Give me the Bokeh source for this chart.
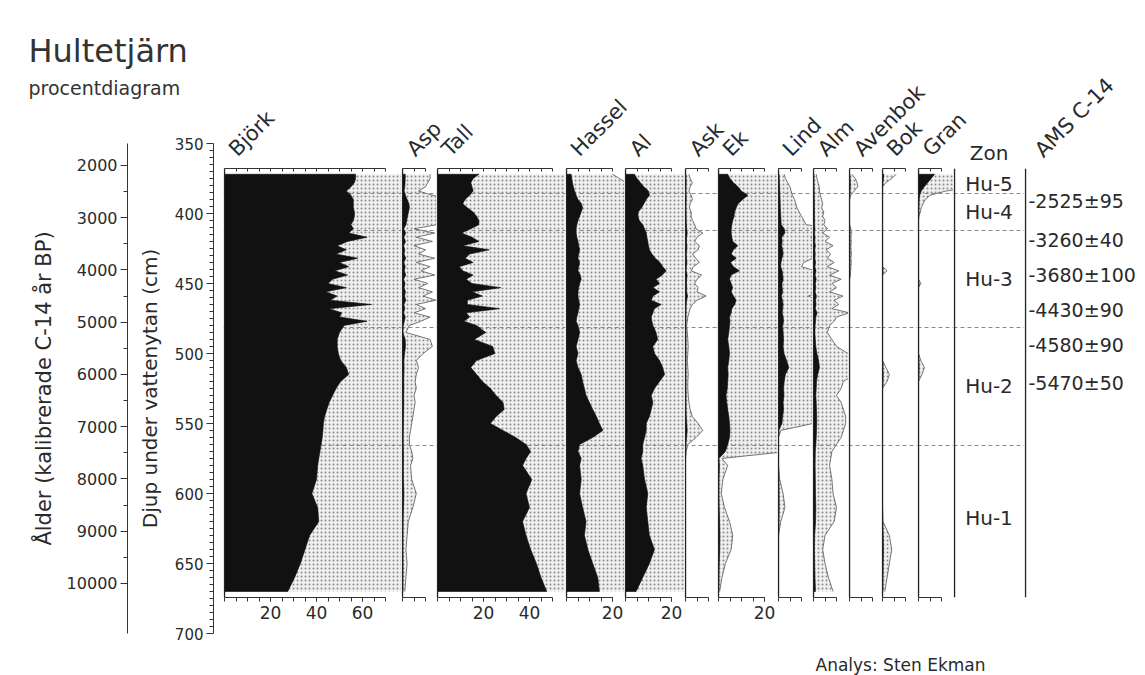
import numpy as np
from bokeh.plotting import figure
from bokeh.layouts import row, column
from bokeh.models import Range1d, LinearAxis, FixedTicker
from bokeh.embed import file_html
from bokeh.resources import INLINE
from bokeh.core.properties import value

# ---------------- data ----------------
depth = [372, 375, 378, 381, 384, 387, 390, 393, 396, 399,
         402, 405, 408, 411, 414, 417, 420, 423, 426, 429,
         432, 435, 438, 441, 444, 447, 450, 453, 456, 459,
         462, 465, 468, 471, 474, 477, 480, 485, 490, 495,
         500, 505, 510, 515, 520, 525, 530, 535, 540, 545,
         550, 555, 560, 565, 570, 575, 580, 590, 600,
         610, 620, 630, 640, 650, 660, 670]

bjork = [57, 57, 56.5, 55, 53, 55, 56, 56, 56, 56.5,
         56.5, 56, 55, 56, 54, 62, 53.5, 49, 53, 48.5,
         58, 50, 54, 48, 53.5, 47, 45, 53, 44, 49,
         46, 64, 45.5, 51, 50, 62, 52, 50, 49, 49,
         49.5, 50.5, 53, 54, 50.5, 48.5, 47, 45.5, 44.5, 43.5,
         43, 42.8, 42.5, 42, 41.5, 41, 40.5, 40, 38,
         40.5, 41, 37, 35, 33, 30.5, 27.5]
asp = [1.2, 1.2, 1.1, 1.0, 0.7, 1.3, 2.0, 2.8, 3.0, 2.6,
       2.2, 1.8, 1.5, 0.5, 1.4, 0.6, 1.3, 0.5, 1.0, 0.7,
       1.4, 0.6, 1.2, 0.8, 1.4, 0.5, 1.1, 0.7, 1.3, 0.9,
       1.45, 0.6, 1.0, 0.5, 1.2, 0.8, 0.3, 0.15, 1.2, 1.3,
       0.9, 0.6, 0.7, 0.6, 0.55, 0.6, 0.5, 0.55, 0.5, 0.45,
       0.4, 0.35, 0.3, 0.3, 0.4, 0.45, 0.35, 0.4, 0.6,
       0.45, 0.25, 0.2, 0.15, 0.2, 0.15, 0.1]
tall = [18, 15.5, 14.5, 15, 15.5, 14, 12, 11, 13, 15.5,
        17, 18, 18, 14.5, 10.5, 15, 18, 11, 22.5, 14,
        12, 15.5, 9.5, 11, 15.5, 12.5, 15, 27.5, 15, 19.5,
        13, 13, 27, 12.5, 14, 11.5, 17, 21, 16, 24,
        25, 17, 14.5, 17, 19.5, 23, 25.5, 28.5, 29, 25.5,
        23, 28.5, 34, 38.5, 40.5, 38.5, 37, 41, 38.5,
        40, 37, 38.5, 40.5, 43, 45, 47.5]
hassel = [2, 2.3, 2.6, 3, 3.5, 4.2, 5, 6.5, 7, 6.4,
          5.7, 5, 4.5, 4.2, 4.2, 4.5, 5, 5.3, 5.7, 5.3,
          5, 5.7, 5.3, 5, 6, 6.4, 5.7, 5.3, 5, 5,
          5.3, 5.7, 5.3, 5, 4.5, 4.2, 5, 5.7, 5, 4.2,
          5, 4.2, 5, 6.4, 7, 7.8, 8.5, 10, 11.4, 13,
          14.3, 15.8, 11.4, 5.7, 5, 6.4, 5.7, 6.4, 5.7,
          7, 8.5, 7.8, 9.3, 11.4, 13.6, 14.3]
al = [3.9, 5, 6.5, 8, 10, 10.4, 9, 8, 7, 5.5,
      5.4, 6, 7.5, 8.3, 9, 9.3, 9.7, 10, 10.4, 11.5,
      13, 15, 16.2, 17.7, 16, 13.3, 14.8, 11.9, 14.8, 12,
      11.2, 15.5, 12.5, 11.9, 11.2, 11.5, 11.9, 13.3, 14, 11.9,
      12.6, 14.8, 16.2, 17, 14.8, 12.6, 11.2, 11.9, 11.2, 10.4,
      9, 9, 8.3, 7.5, 7.5, 6.8, 7.5, 8.3, 9.7,
      9, 9.7, 10.4, 12.6, 10.4, 7.5, 4.6]
ask = [0.15, 0.2, 0.3, 0.2, 0.15, 0.25, 0.3, 0.2, 0.17, 0.25,
       0.25, 0.3, 0.4, 0.46, 0.75, 0.5, 0.4, 0.6, 0.55, 0.3,
       0.45, 0.6, 0.35, 0.25, 0.7, 0.5, 0.4, 0.55, 0.5, 0.9,
       0.5, 0.3, 0.2, 0.15, 0.1, 0.08, 0.05, 0.08, 0.1, 0.12,
       0.1, 0.08, 0.1, 0.12, 0.1, 0.1, 0.12, 0.15, 0.2, 0.3,
       0.55, 0.75, 0.46, 0.1, 0.03, 0, 0, 0, 0,
       0, 0, 0, 0, 0, 0, 0]
ek = [4, 5, 6.5, 8.5, 9.9, 12.8, 10.5, 8.5, 7.7, 7,
      6.8, 6.2, 5.8, 5.5, 5.5, 5.8, 6.2, 8.4, 6.5, 5.5,
      7.7, 5.2, 6.5, 9.1, 5.5, 4.8, 5.5, 6.2, 5.5, 6.5,
      7.7, 7, 5.8, 5.5, 4.8, 5, 4.8, 4.5, 4, 4.5,
      4.8, 4.5, 4, 4.2, 4, 3.8, 3.3, 3.6, 4, 4.5,
      4.8, 5, 4.8, 4, 3, 0.15, 0.4, 0.19, 0.12,
      0.26, 0.48, 0.62, 0.55, 0.3, 0.15, 0.05]
lind = [0.25, 0.3, 0.4, 0.5, 0.55, 0.6, 0.7, 0.75, 0.8, 0.9,
        1.0, 1.1, 1.2, 2.5, 2.8, 1.4, 1.6, 1.4, 1.8, 2.0,
        1.5, 1.1, 1.0, 1.6, 1.8, 2.0, 1.5, 1.6, 1.8, 1.3,
        1.7, 2.0, 1.8, 1.6, 2.0, 2.2, 1.8, 2.0, 2.2, 2.0,
        2.4, 3.5, 4.5, 3.0, 2.5, 2.2, 2.4, 2.0, 2.2, 1.8,
        1.5, 0.1, 0, 0, 0, 0, 0, 0.05, 0.2,
        0.28, 0.1, 0, 0, 0, 0, 0]
alm = [0.12, 0.15, 0.2, 0.25, 0.26, 0.3, 0.35, 0.4, 0.35, 0.45,
       0.4, 0.5, 0.45, 0.6, 0.4, 0.7, 0.5, 0.85, 0.55, 0.75,
       0.6, 0.9, 0.6, 1.1, 0.7, 1.2, 0.8, 1.0, 0.7, 1.28,
       0.9, 1.1, 0.8, 1.56, 1.0, 0.9, 0.7, 0.6, 0.8, 1.0,
       1.5, 2.2, 2.6, 1.8, 1.3, 1.2, 1.0, 1.2, 1.3, 1.4,
       1.4, 1.3, 1.2, 1.0, 0.8, 0.75, 0.7, 0.8, 0.85,
       1.0, 0.9, 0.5, 0.4, 0.5, 0.65, 0.85]
avenbok = [0.1, 0.25, 0.33, 0.36, 0.2, 0.05, 0, 0, 0, 0,
           0, 0, 0, 0.06, 0.08, 0.06, 0.08, 0.06, 0.07, 0.08,
           0.06, 0.08, 0.06, 0.05, 0.04, 0, 0, 0, 0, 0,
           0, 0, 0, 0, 0, 0, 0, 0, 0, 0,
           0, 0, 0, 0, 0, 0, 0, 0, 0, 0,
           0, 0, 0, 0, 0, 0, 0, 0, 0,
           0, 0, 0, 0, 0, 0, 0]
bok = [0.6, 0.4, 0.15, 0, 0, 0, 0, 0, 0, 0,
       0, 0, 0, 0, 0, 0, 0, 0, 0, 0,
       0, 0, 0, 0.2, 0, 0, 0, 0, 0, 0,
       0, 0, 0, 0, 0, 0, 0, 0, 0, 0,
       0, 0, 0.15, 0.3, 0.2, 0, 0, 0, 0, 0,
       0, 0, 0, 0, 0, 0, 0, 0, 0,
       0, 0.02, 0.3, 0.4, 0.3, 0.2, 0.1]
gran = [7, 5.5, 4, 2.5, 1.2, 0.5, 0.3, 0.2, 0.12, 0.08,
        0.02, 0, 0, 0, 0, 0, 0, 0, 0, 0,
        0, 0, 0, 0, 0, 0, 0.1, 0, 0, 0,
        0, 0, 0, 0, 0, 0, 0, 0, 0, 0,
        0, 0.1, 0.26, 0.15, 0, 0, 0, 0, 0, 0,
        0, 0, 0, 0, 0, 0, 0, 0, 0,
        0, 0, 0, 0, 0, 0, 0]

taxa = ["Björk", "Asp", "Tall", "Hassel", "Al", "Ask", "Ek", "Lind",
        "Alm", "Avenbok", "Bok", "Gran"]
series = [bjork, asp, tall, hassel, al, ask, ek, lind, alm, avenbok, bok, gran]
scale_max = [70, 10, 50, 20, 20, 10, 20, 10, 10, 10, 10, 10]
scale_labels = [[20, 40, 60], [], [20, 40], [20], [20], [], [20], [], [], [], [], []]

zone_names = ["Hu-5", "Hu-4", "Hu-3", "Hu-2", "Hu-1"]
zone_bounds = [385.7, 412.0, 481.4, 565.7]
ams_labels = ["-2525±95", "-3260±40", "-3680±100", "-4430±90", "-4580±90", "-5470±50"]
ams_depth = [391, 419, 444, 469, 494, 521]

age_ticks = [2000, 3000, 4000, 5000, 6000, 7000, 8000, 9000, 10000]
age_minor = [2500, 3500, 4500, 5500, 6500, 7500, 8500, 9500]
depth_ticks = [350, 400, 450, 500, 550, 600, 650, 700]

# ---------------- layout constants ----------------
FONT = value("DejaVu Sans")
TXT = "#2a2a2a"
PX = 2.3          # pixels per percent
EXAG = 10         # exaggeration of the stippled curve
panel_px = [178, 35, 129, 59, 60, 33, 60, 35, 36, 33, 36, 36]
ZONE_W, AMS_W = 71, 121
LEFT_W = 223
HEAD_H, ROW_H, FOOT_H = 166, 483, 26
TOP_B, BOT_B = 2, 52
D_TOP, D_BOT = 367.9, 674.3
RIGHT_W = sum(panel_px) + ZONE_W + AMS_W


def blank(width, height, xr, yr):
    p = figure(width=width, height=height, x_range=xr, y_range=yr,
               output_backend="svg", toolbar_location=None,
               x_axis_location=None, y_axis_location=None)
    p.min_border_left = 0
    p.min_border_right = 0
    p.min_border_top = 0
    p.min_border_bottom = 0
    p.outline_line_color = None
    p.background_fill_color = "white"
    p.border_fill_color = "white"
    p.xgrid.visible = False
    p.ygrid.visible = False
    return p


def style_axis(ax, size="17px"):
    ax.axis_line_color = "#333333"
    ax.major_tick_line_color = "#333333"
    ax.minor_tick_line_color = "#333333"
    ax.major_label_text_font = "DejaVu Sans"
    ax.major_label_text_font_size = size
    ax.major_label_text_color = TXT
    ax.axis_label_text_font = "DejaVu Sans"
    ax.axis_label_text_font_style = "normal"
    ax.axis_label_text_color = TXT


def make_panel(vals, w, smax, labels):
    p = blank(w, ROW_H, Range1d(-1.0 / PX, (w - 1.0) / PX), Range1d(D_BOT, D_TOP))
    p.min_border_top = TOP_B
    p.min_border_bottom = BOT_B
    d = np.asarray(depth, dtype=float)
    v = np.asarray(vals, dtype=float)
    ys = np.concatenate([[d[0]], d, [d[-1]]])
    p.patch(np.concatenate([[0], v * EXAG, [0]]), ys, fill_color="#efefef",
            hatch_pattern="dot", hatch_color="#8a8a8a", hatch_scale=4,
            hatch_weight=1, line_color=None)
    p.line(v * EXAG, d, line_color="#555555", line_width=0.8)
    p.hspan(y=zone_bounds, line_color="#8a8a8a", line_width=1, line_dash="4 3")
    p.patch(np.concatenate([[0], v, [0]]), ys, fill_color="#111111",
            line_color="#111111", line_width=0.6)
    p.vspan(x=[0], line_color="#222222", line_width=1.4)
    minor = [float(t) for t in np.arange(0, smax + 0.01, 5)]
    bot = LinearAxis(ticker=FixedTicker(ticks=labels, minor_ticks=minor), bounds=(0, smax))
    style_axis(bot)
    bot.major_tick_out = 4
    bot.major_tick_in = 0
    bot.minor_tick_out = 4
    bot.minor_tick_in = 0
    bot.major_label_standoff = 4
    p.add_layout(bot, "below")
    top = LinearAxis(ticker=FixedTicker(ticks=[], minor_ticks=minor), bounds=(0, smax))
    style_axis(top, "0px")
    top.major_label_standoff = 0
    top.major_tick_out = 0
    top.major_tick_in = 0
    top.minor_tick_out = 0
    top.minor_tick_in = 3
    p.add_layout(top, "above")
    return p


# ---------------- panels ----------------
panels = [make_panel(v, w, m, l) for v, w, m, l in
          zip(series, panel_px, scale_max, scale_labels)]

# zone column
pz = blank(ZONE_W, ROW_H, Range1d(0, ZONE_W), Range1d(D_BOT, D_TOP))
pz.min_border_top = TOP_B
pz.min_border_bottom = BOT_B
pz.hspan(y=zone_bounds, line_color="#8a8a8a", line_width=1, line_dash="4 3")
pz.vspan(x=[0.7], line_color="#222222", line_width=1.4)
edges = [depth[0]] + zone_bounds + [depth[-1]]
zone_mid = [(a + b) / 2 for a, b in zip(edges[:-1], edges[1:])]
pz.text(x=[ZONE_W / 2] * len(zone_names), y=zone_mid, text=zone_names,
        text_align="center", text_baseline="middle", text_font=FONT,
        text_font_size=value("20px"), text_color=TXT)

# AMS column
pa = blank(AMS_W, ROW_H, Range1d(0, AMS_W), Range1d(D_BOT, D_TOP))
pa.min_border_top = TOP_B
pa.min_border_bottom = BOT_B
pa.vspan(x=[0.7], line_color="#222222", line_width=1.4)
pa.text(x=[4] * len(ams_labels), y=ams_depth, text=ams_labels,
        text_align="left", text_baseline="middle", text_font=FONT,
        text_font_size=value("19px"), text_color=TXT)

# ---------------- left axes ----------------
AX_H = 675 - 130
fa = figure(width=130, height=AX_H, x_range=Range1d(0, 1), y_range=Range1d(10957, 1579),
            output_backend="svg", toolbar_location=None,
            x_axis_location=None, y_axis_location="left")
fa.min_border_left = 127
fa.min_border_right = 0
fa.min_border_top = 13
fa.min_border_bottom = AX_H - 13 - 490
fa.outline_line_color = None
fa.xgrid.visible = False
fa.ygrid.visible = False
ax = fa.yaxis[0]
ax.ticker = FixedTicker(ticks=age_ticks, minor_ticks=age_minor)
style_axis(ax, "16px")
ax.axis_label = "Ålder (kalibrerade C-14 år BP)"
ax.axis_label_text_font_size = "21px"
ax.axis_label_standoff = 8
ax.major_tick_out = 7
ax.major_tick_in = 0
ax.minor_tick_out = 4
ax.minor_tick_in = 0
ax.major_label_standoff = 3

fd = figure(width=LEFT_W - 130, height=AX_H, x_range=Range1d(0, 1), y_range=Range1d(700, 350),
            output_backend="svg", toolbar_location=None,
            x_axis_location=None, y_axis_location="left")
fd.min_border_left = 83
fd.min_border_right = 0
fd.min_border_top = 13
fd.min_border_bottom = AX_H - 13 - 490
fd.outline_line_color = None
fd.xgrid.visible = False
fd.ygrid.visible = False
dx = fd.yaxis[0]
dx.ticker = FixedTicker(ticks=depth_ticks, minor_ticks=list(range(355, 700, 5)))
style_axis(dx, "15px")
dx.axis_label = "Djup under vattenytan (cm)"
dx.axis_label_text_font_size = "20px"
dx.axis_label_standoff = 10
dx.major_tick_out = 7
dx.major_tick_in = 0
dx.minor_tick_out = 4
dx.minor_tick_in = 0
dx.major_label_standoff = 3

# ---------------- title, header, footer ----------------
ft = blank(LEFT_W, 130, Range1d(0, LEFT_W), Range1d(130, 0))
ft.text(x=[28], y=[50], text=["Hultetjärn"], text_font=FONT,
        text_font_size=value("32px"), text_color="#333333", text_baseline="middle")
ft.text(x=[28], y=[87], text=["procentdiagram"], text_font=FONT,
        text_font_size=value("19px"), text_color="#333333", text_baseline="middle")

fh = blank(RIGHT_W, HEAD_H, Range1d(0, RIGHT_W), Range1d(HEAD_H, 0))
offsets = list(np.cumsum([0] + panel_px[:-1]))
fh.text(x=[o + 9 for o in offsets], y=[152] * len(taxa), text=taxa, angle=np.pi / 4,
        text_align="left", text_baseline="middle", text_font=FONT,
        text_font_size=value("21px"), text_color=TXT)
zone_left = sum(panel_px)
fh.text(x=[zone_left + ZONE_W / 2], y=[152], text=["Zon"], text_align="center",
        text_baseline="middle", text_font=FONT, text_font_size=value("20px"),
        text_color=TXT)
fh.text(x=[zone_left + ZONE_W + 14], y=[153], text=["AMS C-14"], angle=np.pi / 4,
        text_align="left", text_baseline="middle", text_font=FONT,
        text_font_size=value("21px"), text_color=TXT)

ff = blank(RIGHT_W, FOOT_H, Range1d(0, RIGHT_W), Range1d(FOOT_H, 0))
ff.text(x=[592], y=[15], text=["Analys: Sten Ekman"], text_font=FONT,
        text_font_size=value("17px"), text_color=TXT, text_baseline="middle")

left = column(ft, row(fa, fd))
right = column(fh, row(*panels, pz, pa), ff)
layout = row(left, right)

open("out.html", "w").write(file_html(layout, INLINE, title="Hultetjärn"))
